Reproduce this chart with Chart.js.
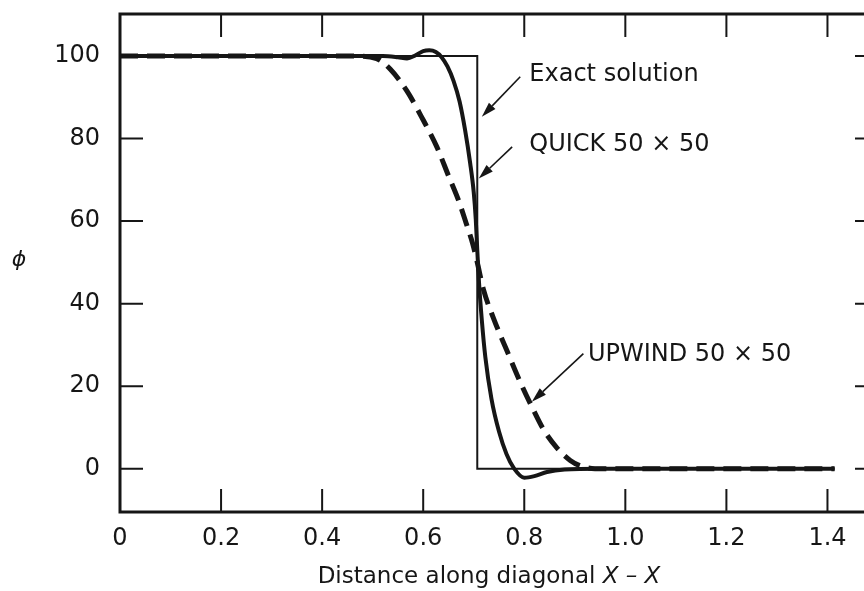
<!DOCTYPE html>
<html><head><meta charset="utf-8">
<script src="https://cdn.jsdelivr.net/npm/chart.js@4.4.1/dist/chart.umd.min.js"></script>
<style>
html,body{margin:0;padding:0;background:#fff;overflow:hidden;width:864px;height:591px}
#wrap{position:absolute;left:0;top:0;width:900px;height:591px}
</style>
</head><body><div id="wrap"><canvas id="c" width="900" height="591"></canvas></div>
<script>
// ---- data ----
const xTickValues = [0, 0.2, 0.4, 0.6, 0.8, 1.0, 1.2, 1.4];
const xTickLabels = ['0', '0.2', '0.4', '0.6', '0.8', '1.0', '1.2', '1.4'];
const yTickValues = [0, 20, 40, 60, 80, 100];

const exactX = [0, 0.707, 0.707, 1.414];
const exactY = [100, 100, 0, 0];

const quickX = [0, 0.45, 0.52, 0.55, 0.568, 0.585, 0.60, 0.612, 0.625, 0.636, 0.648, 0.66, 0.672, 0.683, 0.693, 0.700, 0.704, 0.707, 0.710, 0.716, 0.723, 0.735, 0.750, 0.765, 0.780, 0.800, 0.820, 0.845, 0.88, 0.95, 1.414];
const quickY = [100, 100, 100, 99.7, 99.4, 100.2, 101.2, 101.4, 101.0, 99.8, 97.5, 94.0, 89.0, 82.0, 74.0, 67.0, 60.5, 53, 46, 36, 27, 17, 9, 3.5, 0, -2.2, -1.8, -0.8, -0.2, 0, 0];

const upwindX = [0, 0.47, 0.508, 0.535, 0.568, 0.60, 0.627, 0.650, 0.670, 0.685, 0.698, 0.707, 0.719, 0.739, 0.766, 0.792, 0.815, 0.838, 0.865, 0.891, 0.911, 0.94, 1.414];
const upwindY = [100, 100, 99.4, 96.8, 91.5, 84.5, 78, 71, 65, 59.5, 54.5, 50, 43.5, 36.5, 28.5, 21, 15, 9.5, 5, 2, 0.7, 0, 0];

const seriesNames = ['Exact solution', 'QUICK 50 \u00d7 50', 'UPWIND 50 \u00d7 50'];
const xTitleText = 'Distance along diagonal ';
const xTitleItalic = 'X \u2013 X';
const yTitleText = '\u03d5';

// annotation placement (data units)
const labelAt = [[0.81, 95.4], [0.81, 78.4], [0.926, 27.5]];
const arrowTail = [[0.792, 95.0], [0.776, 78.0], [0.917, 27.9]];
const arrowTip = [[0.716, 85.3], [0.710, 70.3], [0.815, 16.2]];

// ---- build ----
const ink = '#161616';
const FONT = '"DejaVu Sans", sans-serif';
const pts = (xs, ys) => xs.map((v, i) => ({x: v, y: ys[i]}));
const noPad = s => { s.paddingTop = 0; s.paddingBottom = 0; s.paddingLeft = 0; s.paddingRight = 0; };

const decorPlugin = {
  id: 'decor',
  afterDatasetsDraw(chart) {
    const {ctx, chartArea: a, scales: {x, y}} = chart;
    ctx.save();
    ctx.strokeStyle = ink; ctx.fillStyle = ink;
    const tl = 23;
    ctx.lineWidth = 2;
    xTickValues.forEach(v => {
      if (v === 0) return;
      const px = x.getPixelForValue(v);
      ctx.beginPath();
      ctx.moveTo(px, a.bottom); ctx.lineTo(px, a.bottom - tl);
      ctx.moveTo(px, a.top); ctx.lineTo(px, a.top + tl);
      ctx.stroke();
    });
    yTickValues.forEach(v => {
      const py = y.getPixelForValue(v);
      ctx.beginPath();
      ctx.moveTo(a.left, py); ctx.lineTo(a.left + tl, py);
      ctx.moveTo(a.right, py); ctx.lineTo(a.right - tl, py);
      ctx.stroke();
    });
    ctx.lineWidth = 3;
    ctx.strokeRect(a.left, a.top, a.right - a.left, a.bottom - a.top);

    // arrows
    ctx.lineWidth = 1.6;
    arrowTail.forEach((t, i) => {
      const x0 = x.getPixelForValue(t[0]), y0 = y.getPixelForValue(t[1]);
      const x1 = x.getPixelForValue(arrowTip[i][0]), y1 = y.getPixelForValue(arrowTip[i][1]);
      const ang = Math.atan2(y1 - y0, x1 - x0);
      const L = 15, W = 4.5;
      const bx = x1 - L * Math.cos(ang), by = y1 - L * Math.sin(ang);
      ctx.beginPath(); ctx.moveTo(x0, y0); ctx.lineTo(bx, by); ctx.stroke();
      ctx.beginPath();
      ctx.moveTo(x1, y1);
      ctx.lineTo(bx + W * Math.sin(ang), by - W * Math.cos(ang));
      ctx.lineTo(bx - W * Math.sin(ang), by + W * Math.cos(ang));
      ctx.closePath(); ctx.fill();
    });

    // labels
    ctx.font = '24px ' + FONT;
    ctx.textAlign = 'left'; ctx.textBaseline = 'middle';
    labelAt.forEach((p, i) => {
      ctx.fillText(seriesNames[i], x.getPixelForValue(p[0]), y.getPixelForValue(p[1]));
    });

    // y title
    ctx.font = 'italic 22px ' + FONT;
    ctx.textAlign = 'center';
    ctx.fillText(yTitleText, a.left - 101, y.getPixelForValue(50) - 2);

    // x title
    ctx.font = '23px ' + FONT;
    const w1 = ctx.measureText(xTitleText).width;
    ctx.font = 'italic 23px ' + FONT;
    const w2 = ctx.measureText(xTitleItalic).width;
    const cx = a.left + 369;
    const left = cx - (w1 + w2) / 2;
    const ty = a.bottom + 65;
    ctx.textAlign = 'left';
    ctx.font = '23px ' + FONT;
    ctx.fillText(xTitleText, left, ty);
    ctx.font = 'italic 23px ' + FONT;
    ctx.fillText(xTitleItalic, left + w1, ty);
    ctx.restore();
  }
};

new Chart(document.getElementById('c'), {
  type: 'scatter',
  data: {
    datasets: [
      {label: seriesNames[0], data: pts(exactX, exactY), showLine: true, borderColor: ink, borderWidth: 2, pointRadius: 0, tension: 0},
      {label: seriesNames[1], data: pts(quickX, quickY), showLine: true, borderColor: ink, borderWidth: 4, pointRadius: 0, cubicInterpolationMode: 'monotone'},
      {label: seriesNames[2], data: pts(upwindX, upwindY), showLine: true, borderColor: ink, borderWidth: 5, borderDash: [18, 9], pointRadius: 0, cubicInterpolationMode: 'monotone'}
    ]
  },
  options: {
    responsive: false,
    animation: false,
    events: [],
    layout: {padding: {left: 0, top: 14, right: 22, bottom: 0}},
    plugins: {legend: {display: false}, tooltip: {enabled: false}},
    scales: {
      x: {
        type: 'linear', min: 0, max: 1.5,
        grid: {display: false, drawTicks: false},
        border: {display: false},
        afterBuildTicks: s => { s.ticks = xTickValues.map(v => ({value: v})); },
        afterFit: s => { s.height = 79; noPad(s); },
        ticks: {
          padding: 12, color: ink, maxRotation: 0, autoSkip: false,
          font: {family: FONT, size: 24},
          callback: (v) => { const i = xTickValues.indexOf(v); return i >= 0 ? xTickLabels[i] : ''; }
        }
      },
      y: {
        type: 'linear', min: -10.5, max: 110.2,
        grid: {display: false, drawTicks: false},
        border: {display: false},
        afterBuildTicks: s => { s.ticks = yTickValues.map(v => ({value: v})); },
        afterFit: s => { s.width = 120; noPad(s); },
        ticks: {padding: 20, color: ink, autoSkip: false, font: {family: FONT, size: 24}}
      }
    }
  },
  plugins: [decorPlugin]
});
</script>
</body></html>
